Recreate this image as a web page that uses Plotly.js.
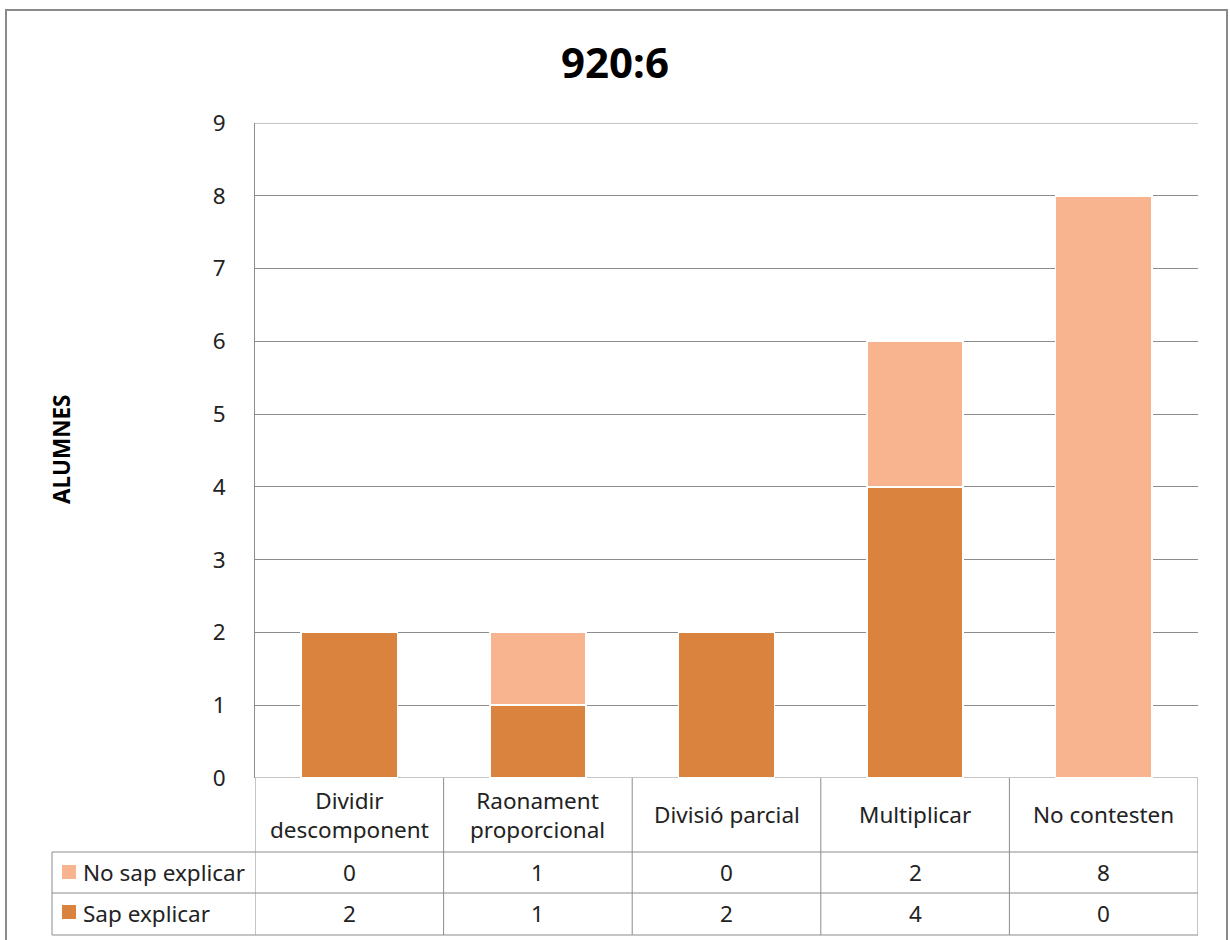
<!DOCTYPE html>
<html>
<head>
<meta charset="utf-8">
<script src="https://cdn.plot.ly/plotly-3.0.1.min.js"></script>
<style>html,body{margin:0;padding:0;background:#fff;}#chart{width:1230px;height:940px;}</style>
</head>
<body>
<div id="chart"></div>
<script>
var categories = ["Dividir descomponent", "Raonament proporcional", "Divisió parcial", "Multiplicar", "No contesten"];
var categoryLabels = ["Dividir<br>descomponent", "Raonament<br>proporcional", "Divisió parcial", "Multiplicar", "No contesten"];
var noSapExplicar = [0, 1, 0, 2, 8];
var sapExplicar = [2, 1, 2, 4, 0];
var seriesNames = ["No sap explicar", "Sap explicar"];
var yTicks = [0, 1, 2, 3, 4, 5, 6, 7, 8, 9];

var darkColor = "#D9833E";
var lightColor = "#F8B48F";
var FONT = "Noto Sans, sans-serif";

var idx = categories.map(function (c, i) { return i; });

var traces = [
  {type: "bar", name: seriesNames[1], x: idx, y: sapExplicar,
   marker: {color: darkColor, line: {color: "#ffffff", width: 1.5}}, hoverinfo: "y"},
  {type: "bar", name: seriesNames[0], x: idx, y: noSapExplicar,
   marker: {color: lightColor, line: {color: "#ffffff", width: 1.5}}, hoverinfo: "y"}
];

// pixel helpers for table placement (plot area: x 255..1198, y 123..778)
function px(p) { return (p - 255) / 943; }
function py(p) { return (778 - p) / 655; }

var gridColor = "#8c8c8c";
var shapes = [];
// outer chart border
shapes.push({type: "rect", xref: "paper", yref: "paper", x0: px(6), x1: px(1227), y0: py(10), y1: py(960),
  line: {color: "#8a8a8a", width: 2}, fillcolor: "rgba(0,0,0,0)"});
// gridlines at range edges (bottom = table top, top = 9)
[yTicks[0], yTicks[yTicks.length - 1]].forEach(function (v) {
  shapes.push({type: "line", xref: "paper", yref: "y", x0: 0, x1: 1, y0: v, y1: v,
    line: {color: gridColor, width: 1}, layer: "below"});
});
// table horizontal lines
[852, 893, 935].forEach(function (yy) {
  shapes.push({type: "line", xref: "paper", yref: "paper", x0: px(52), x1: 1, y0: py(yy), y1: py(yy),
    line: {color: gridColor, width: 1}});
});
// left border of series-name column
shapes.push({type: "line", xref: "paper", yref: "paper", x0: px(52), x1: px(52), y0: py(852), y1: py(935),
  line: {color: gridColor, width: 1}});
// category boundaries in the table
for (var i = 0; i <= categories.length; i++) {
  shapes.push({type: "line", xref: "x", yref: "paper", x0: i - 0.5, x1: i - 0.5, y0: 0, y1: py(935),
    line: {color: gridColor, width: 1}});
}
// legend keys
shapes.push({type: "rect", xref: "paper", yref: "paper", x0: px(62), x1: px(76), y0: py(865), y1: py(879),
  line: {width: 0}, fillcolor: lightColor});
shapes.push({type: "rect", xref: "paper", yref: "paper", x0: px(62), x1: px(76), y0: py(905), y1: py(919),
  line: {width: 0}, fillcolor: darkColor});

var annotations = [];
var tf = {family: FONT, size: 22.5, color: "#222"};
categories.forEach(function (c, i) {
  annotations.push({xref: "x", yref: "paper", x: i, y: py(815), text: categoryLabels[i], showarrow: false,
    xanchor: "center", yanchor: "middle", font: tf, align: "center"});
  annotations.push({xref: "x", yref: "paper", x: i, y: py(872), text: String(noSapExplicar[i]), showarrow: false,
    xanchor: "center", yanchor: "middle", font: tf});
  annotations.push({xref: "x", yref: "paper", x: i, y: py(913), text: String(sapExplicar[i]), showarrow: false,
    xanchor: "center", yanchor: "middle", font: tf});
});
annotations.push({xref: "paper", yref: "paper", x: px(81), y: py(872), text: seriesNames[0], showarrow: false,
  xanchor: "left", yanchor: "middle", font: tf});
annotations.push({xref: "paper", yref: "paper", x: px(81), y: py(913), text: seriesNames[1], showarrow: false,
  xanchor: "left", yanchor: "middle", font: tf});
// y axis title
annotations.push({xref: "paper", yref: "paper", x: px(61), y: py(450), text: "<b>ALUMNES</b>", showarrow: false,
  textangle: -90, xanchor: "center", yanchor: "middle", font: {family: FONT, size: 22.5, color: "#000"}});

var layout = {
  width: 1230, height: 940,
  margin: {l: 255, r: 32, t: 123, b: 162},
  paper_bgcolor: "#ffffff", plot_bgcolor: "#ffffff",
  barmode: "stack", bargap: 0.49,
  showlegend: false,
  title: {text: "<b>920:6</b>", x: 0.5, xref: "container", y: 1 - 63 / 940, yref: "container",
          xanchor: "center", yanchor: "middle", font: {family: FONT, size: 42, color: "#000"}},
  xaxis: {range: [-0.5, 4.5], showticklabels: false, showgrid: false, zeroline: false,
          showline: false, fixedrange: true},
  yaxis: {range: [0, 9], tickvals: yTicks, showgrid: true, gridcolor: gridColor, gridwidth: 1,
          zeroline: false, showline: true, linecolor: gridColor, linewidth: 1,
          ticks: "", ticklabelstandoff: 24,
          tickfont: {family: FONT, size: 22.5, color: "#222"}, fixedrange: true},
  shapes: shapes,
  annotations: annotations
};

Plotly.newPlot("chart", traces, layout, {displayModeBar: false, staticPlot: true});
</script>
</body>
</html>
